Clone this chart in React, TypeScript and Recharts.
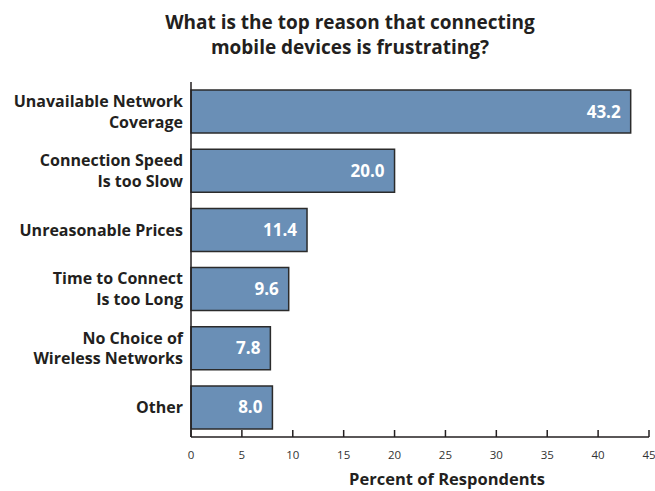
import { BarChart, Bar, XAxis, YAxis, LabelList } from 'recharts';

const categories = [
    "Unavailable Network\nCoverage",
    "Connection Speed\nIs too Slow",
    "Unreasonable Prices",
    "Time to Connect\nIs too Long",
    "No Choice of\nWireless Networks",
    "Other",
];
const percents = [43.2, 20.0, 11.4, 9.6, 7.8, 8.0];
const xTicks = [0, 5, 10, 15, 20, 25, 30, 35, 40, 45];

const data = categories.map((name, i) => ({ name, value: percents[i] }));

const FONT = '"Open Sans", "DejaVu Sans", sans-serif';
const INK = "#231f20";

// eslint-disable-next-line @typescript-eslint/no-explicit-any
function CategoryTick({ x, y, payload }: any) {
    const lines = String(payload.value).split("\n");
    const lh = 20.7;
    const start = y - ((lines.length - 1) * lh) / 2;
    return (
        <text x={x - 8} textAnchor="end" fontFamily={FONT} fontSize={16} fontWeight={700} fill={INK}>
            {lines.map((l, i) => (
                <tspan key={i} x={x - 8} y={start + i * lh} dy="0.35em">{l}</tspan>
            ))}
        </text>
    );
}

// eslint-disable-next-line @typescript-eslint/no-explicit-any
function PercentTick({ x, y, payload }: any) {
    return (
        <g>
            <line x1={x} x2={x} y1={y - 7} y2={y} stroke={INK} strokeWidth={1.5} />
            <text x={x} y={y + 18} dy="0.35em" textAnchor="middle" fontFamily={FONT} fontSize={11.5} fill="#333">
                {payload.value}
            </text>
        </g>
    );
}

export default function App() {
    return (
        <div style={{ position: "relative", width: 655, height: 491 }}>
            <style>{"body { margin: 0; }"}</style>
            <div
                style={{
                    position: "absolute",
                    left: 50,
                    top: 10,
                    width: 600,
                    textAlign: "center",
                    fontFamily: FONT,
                    fontWeight: 700,
                    fontSize: 19,
                    lineHeight: "25px",
                    color: INK,
                }}
            >
                What is the top reason that connecting
                <br />
                mobile devices is frustrating?
            </div>
            <BarChart
                width={655}
                height={491}
                data={data}
                layout="vertical"
                margin={{ top: 82, right: 6, bottom: 0, left: 16 }}
                barCategoryGap="13.6%"
            >
                <XAxis
                    type="number"
                    domain={[0, 45]}
                    ticks={xTicks}
                    interval={0}
                    height={54}
                    tickSize={0}
                    tickMargin={0}
                    tickLine={false}
                    axisLine={{ stroke: INK, strokeWidth: 1.5 }}
                    tick={<PercentTick />}
                />
                <YAxis
                    type="category"
                    dataKey="name"
                    width={175}
                    tickSize={0}
                    tickMargin={0}
                    tickLine={false}
                    axisLine={{ stroke: INK, strokeWidth: 1.5 }}
                    tick={<CategoryTick />}
                    interval={0}
                />
                <Bar dataKey="value" fill="#6a8fb6" stroke="#2b2b2b" strokeWidth={1.5} isAnimationActive={false}>
                    <LabelList
                        dataKey="value"
                        position="insideRight"
                        offset={10}
                        formatter={(v: any) => Number(v).toFixed(1)}
                        fill="#ffffff"
                        fontFamily={FONT}
                        fontSize={17}
                        fontWeight={700}
                    />
                </Bar>
            </BarChart>
            <div
                style={{
                    position: "absolute",
                    left: 247,
                    top: 470,
                    width: 400,
                    textAlign: "center",
                    fontFamily: FONT,
                    fontWeight: 700,
                    fontSize: 16.5,
                    lineHeight: "17px",
                    color: INK,
                }}
            >
                Percent of Respondents
            </div>
        </div>
    );
}
